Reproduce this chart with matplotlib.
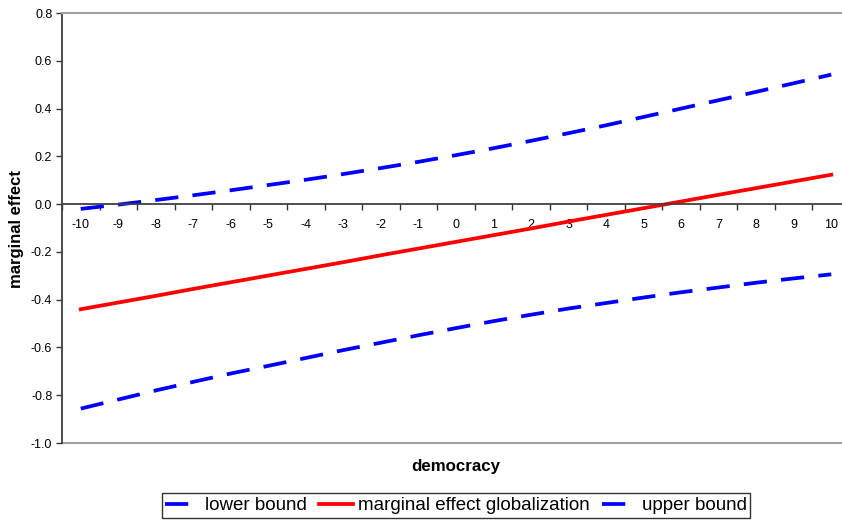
import numpy as np
import matplotlib
matplotlib.use("Agg")
import matplotlib.pyplot as plt
from matplotlib.ticker import MultipleLocator, FormatStrFormatter

# democracy score (categories on the x axis)
democracy = list(range(-10, 11))

lower_bound = [-0.856, -0.818, -0.780, -0.744, -0.709, -0.677, -0.644, -0.611,
               -0.580, -0.549, -0.519, -0.490, -0.463, -0.437, -0.414, -0.391,
               -0.369, -0.349, -0.329, -0.311, -0.294]
marginal_effect = [-0.440, -0.412, -0.384, -0.355, -0.327, -0.299, -0.271, -0.243,
                   -0.214, -0.186, -0.158, -0.130, -0.102, -0.073, -0.045, -0.017,
                   0.011, 0.039, 0.067, 0.095, 0.123]
upper_bound = [-0.020, -0.002, 0.017, 0.037, 0.058, 0.080, 0.102, 0.126,
               0.151, 0.177, 0.205, 0.234, 0.265, 0.297, 0.330, 0.365,
               0.400, 0.435, 0.470, 0.506, 0.542]

plt.rcParams["font.family"] = ["Liberation Sans", "DejaVu Sans"]

W, H = 842, 520
fig = plt.figure(figsize=(W / 100, H / 100), dpi=100)
ax = fig.add_axes([62 / W, 1 - 443 / H, (850 - 62) / W, 430 / H])

x = np.arange(len(democracy))
lw = 2.7
dash = (6.2, 3.8)
l1, = ax.plot(x, lower_bound, color="#0000ff", lw=lw, dashes=dash, label="lower bound")
l2, = ax.plot(x, marginal_effect, color="#ff0000", lw=lw, label="marginal effect globalization")
l3, = ax.plot(x, upper_bound, color="#0000ff", lw=lw, dashes=dash, label="upper bound")

ax.set_xlim(-0.5, len(democracy) - 0.5)
ax.set_ylim(-1.0, 0.8)

# y axis
ax.yaxis.set_major_locator(MultipleLocator(0.2))
ax.yaxis.set_major_formatter(FormatStrFormatter("%.1f"))
ax.tick_params(axis="y", direction="out", length=4, width=1, colors="#333333",
               labelsize=9, labelcolor="black", pad=3)
ax.spines["left"].set_color("#404040")
ax.spines["left"].set_linewidth(1.3)

# category axis crossing at zero, ticks between categories
ax.spines["bottom"].set_position(("data", 0))
ax.spines["bottom"].set_color("#404040")
ax.spines["bottom"].set_linewidth(1.3)
ax.set_xticks(x)
ax.set_xticklabels([str(d) for d in democracy])
ax.set_xticks(np.arange(-0.5, len(democracy), 1), minor=True)
ax.tick_params(axis="x", which="major", length=0, labelsize=9, pad=11)
ax.tick_params(axis="x", which="minor", direction="out", length=4, width=1, colors="#333333")

ax.spines["top"].set_color("#a0a0a0")
ax.spines["top"].set_linewidth(1.5)
ax.spines["right"].set_visible(False)
ax.axhline(-1.0, color="#a0a0a0", lw=1.5, clip_on=False, zorder=0)

fig.text(17 / W, 1 - 229 / H, "marginal effect", rotation=90, ha="center", va="center",
         fontsize=12, fontweight="bold")
fig.text(456 / W, 1 - 466 / H, "democracy", ha="center", va="center",
         fontsize=12.2, fontweight="bold")

leg = fig.legend(handles=[l1, l2, l3], loc="center", ncol=3,
                 bbox_to_anchor=(456 / W, 1 - 505.5 / H), fontsize=13.5,
                 frameon=True, fancybox=False, handlelength=1.8,
                 handletextpad=0.3, columnspacing=0.65, borderpad=0.2,
                 borderaxespad=0)
leg.get_frame().set_edgecolor("black")
leg.get_frame().set_linewidth(1.0)

fig.savefig("out.png", dpi=100)
